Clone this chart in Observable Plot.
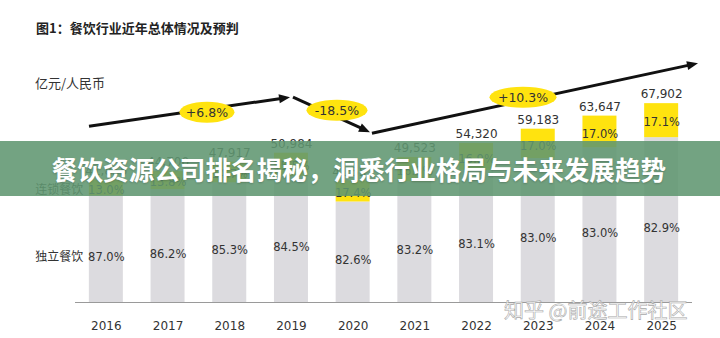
<!DOCTYPE html>
<html>
<head>
<meta charset="utf-8">
<script src="https://cdn.jsdelivr.net/npm/d3@7"></script>
<script src="https://cdn.jsdelivr.net/npm/@observablehq/plot@0.6"></script>
<style>
  html, body { margin: 0; padding: 0; background: #fff; }
  #wrap { position: relative; width: 720px; height: 338px; overflow: hidden; background: #fff; }
  #wrap svg { position: absolute; left: 0; top: 0; }
  .title { position: absolute; left: 36px; top: 18px; font: bold 13px "Noto Sans CJK SC", sans-serif; color: #222; white-space: nowrap; }
  .unit { position: absolute; left: 35px; top: 73px; font: 13px "Noto Sans CJK SC", sans-serif; color: #333; white-space: nowrap; }
  .banner { position: absolute; left: 0; top: 141px; width: 720px; height: 55px; background: rgba(96,150,113,0.88);
            display: flex; align-items: center; justify-content: center; }
  .banner span { font: bold 25.6px "Noto Sans CJK SC", sans-serif; color: #fff; white-space: nowrap; text-shadow: 0 1px 2px rgba(0,0,0,0.2); margin-left: -2px; }
  .mark { position: absolute; left: 504px; top: 295px; font: 20px "Noto Sans CJK SC", sans-serif; color: rgba(255,255,255,0.85);
          -webkit-text-stroke: 0.6px #a8a8a8; white-space: nowrap; }
</style>
</head>
<body>
<div id="wrap">
  <div class="title">图1：餐饮行业近年总体情况及预判</div>
  <div class="unit">亿元/人民币</div>
</div>
<script>
// ---- data ----
const years = [2016, 2017, 2018, 2019, 2020, 2021, 2022, 2023, 2024, 2025];
const totals = [41855, 44700, 47917, 50984, 41552, 49523, 54320, 59183, 63647, 67902];
const chainShare = [13.0, 13.8, 14.7, 15.5, 17.4, 16.8, 16.9, 17.0, 17.0, 17.1];
const indepShare = [87.0, 86.2, 85.3, 84.5, 82.6, 83.2, 83.1, 83.0, 83.0, 82.9];
const seriesNames = ["连锁餐饮", "独立餐饮"];
// trend arrows (in year / value units)
const arrowFromYear = [2015.727, 2019.033, 2020.313];
const arrowFromValue = [60040, 69930, 57650];
const arrowToYear = [2018.985, 2020.281, 2025.597];
const arrowToValue = [69930, 57990, 81530];
// growth bubbles
const growthLabels = ["+6.8%", "-18.5%", "+10.3%"];
const growthYear = [2017.639, 2019.746, 2022.761];
const growthValue = [64810, 65490, 69930];

// ---- build rows ----
const rows = years.map((year, i) => {
  const gray = totals[i] * indepShare[i] / 100;
  return { year, total: totals[i], gray, chain: totals[i] - gray, cs: chainShare[i], is: indepShare[i] };
});
const arrows = arrowFromYear.map((_, i) => ({ x1: arrowFromYear[i], y1: arrowFromValue[i], x2: arrowToYear[i], y2: arrowToValue[i] }));
const bubbles = growthLabels.map((t, i) => ({ t, x: growthYear[i], y: growthValue[i], rx: [27.5, 30.5, 33.5][i] }));

const YELLOW = "#ffe30f";
const GRAY = "#dcdbdf";
const half = 0.2755;
const fmtPct = d => d.toFixed(1) + "%";

const plot = Plot.plot({
  width: 720,
  height: 338,
  marginLeft: 75,
  marginRight: 28,
  marginTop: 97,
  marginBottom: 36,
  style: { fontFamily: "'DejaVu Sans', 'Noto Sans CJK SC', sans-serif", background: "transparent" },
  x: { domain: [2015.5, 2025.5], axis: null },
  y: { domain: [0, 70000], axis: null },
  marks: [
    Plot.rectY(rows, { x1: d => d.year - half, x2: d => d.year + half, y1: 0, y2: "gray", fill: GRAY }),
    Plot.rectY(rows, { x1: d => d.year - half, x2: d => d.year + half, y1: "gray", y2: "total", fill: YELLOW }),
    Plot.ruleY([0], { stroke: "#9a9a9a", strokeWidth: 1.2 }),
    Plot.text(rows, { x: "year", y: 0, dy: 24, text: d => String(d.year), fontSize: 12, fill: "#333" }),
    Plot.text(rows, { x: "year", y: "total", dy: -9, text: d => d3.format(",")(d.total), fontSize: 12, fill: "#333" }),
    Plot.text(rows, { x: "year", y: d => d.gray + d.chain / 2, dy: 2, text: d => fmtPct(d.cs), fontSize: 11.5, fill: "#333" }),
    Plot.text(rows, { x: "year", y: d => d.gray / 2, dy: 8, text: d => fmtPct(d.is), fontSize: 11.5, fill: "#333" }),
    Plot.text([rows[0]], { x: d => d.year - half, y: d => d.gray + d.chain / 2, dx: -6, dy: 2, text: () => seriesNames[0], textAnchor: "end", fontSize: 12, fill: "#333", fontFamily: "Noto Sans CJK SC" }),
    Plot.text([rows[0]], { x: d => d.year - half, y: d => d.gray / 2, dx: -6, dy: 8, text: () => seriesNames[1], textAnchor: "end", fontSize: 12, fill: "#333", fontFamily: "Noto Sans CJK SC" })
  ]
});

// trend arrows and growth bubbles drawn with the plot's own scales
const sx = plot.scale("x"), sy = plot.scale("y");
const g = d3.select(plot).append("g");
arrows.forEach(a => {
  const x1 = sx.apply(a.x1), y1 = sy.apply(a.y1), x2 = sx.apply(a.x2), y2 = sy.apply(a.y2);
  const ang = Math.atan2(y2 - y1, x2 - x1);
  const L = 11, W = 4.5;
  const bx = x2 - L * Math.cos(ang), by = y2 - L * Math.sin(ang);
  g.append("line").attr("x1", x1).attr("y1", y1).attr("x2", bx + 2 * Math.cos(ang)).attr("y2", by + 2 * Math.sin(ang))
    .attr("stroke", "#111").attr("stroke-width", 3);
  const px = -Math.sin(ang), py = Math.cos(ang);
  g.append("polygon").attr("points", [[x2, y2], [bx + W * px, by + W * py], [bx - W * px, by - W * py]].map(p => p.join(",")).join(" "))
    .attr("fill", "#111");
});
bubbles.forEach(b => {
  const cx = sx.apply(b.x), cy = sy.apply(b.y);
  g.append("ellipse").attr("cx", cx).attr("cy", cy).attr("rx", b.rx).attr("ry", 10.5).attr("fill", YELLOW);
  g.append("text").attr("x", cx).attr("y", cy).attr("dy", "0.36em").attr("text-anchor", "middle")
    .attr("font-family", "DejaVu Sans").attr("font-size", 12.5).attr("fill", "#333").text(b.t);
});

const wrap = document.getElementById("wrap");
wrap.insertBefore(plot, wrap.firstChild);
const banner = document.createElement("div");
banner.className = "banner";
banner.innerHTML = "<span>餐饮资源公司排名揭秘，洞悉行业格局与未来发展趋势</span>";
wrap.appendChild(banner);
const mark = document.createElement("div");
mark.className = "mark";
mark.textContent = "知乎 @前途工作社区";
wrap.appendChild(mark);
</script>
</body>
</html>
